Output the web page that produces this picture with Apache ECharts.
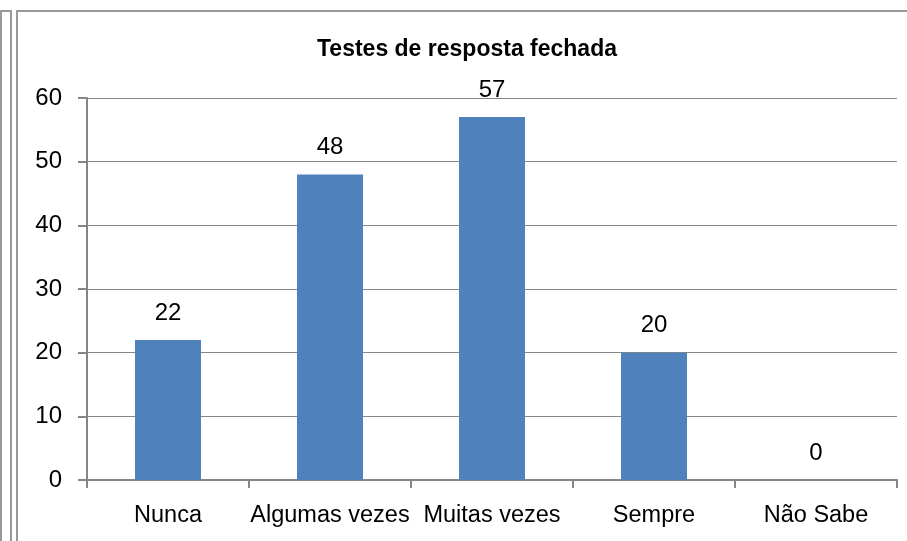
<!DOCTYPE html>
<html>
<head>
<meta charset="utf-8">
<script src="https://cdn.jsdelivr.net/npm/echarts@6/dist/echarts.min.js"></script>
<style>
  html, body { margin: 0; padding: 0; background: #fff; }
  #chart { width: 907px; height: 541px; }
</style>
</head>
<body>
<div id="chart"></div>
<script>
// Respostas: frequência de testes de resposta fechada
const categories = ['Nunca', 'Algumas vezes', 'Muitas vezes', 'Sempre', 'Não Sabe'];
const counts = [22, 48, 57, 20, 0];
const yTicks = { min: 0, max: 60, step: 10 };

const FONT = "'Liberation Sans', 'Noto Sans', sans-serif";
const border = { stroke: '#9a9a9a', lineWidth: 2 };

const chart = echarts.init(document.getElementById('chart'), null, { renderer: 'canvas' });
chart.setOption({
  animation: false,
  backgroundColor: '#ffffff',
  title: {
    text: 'Testes de resposta fechada',
    left: 462,
    top: 33,
    textAlign: 'center',
    textStyle: { fontFamily: FONT, fontWeight: 'bold', fontSize: 23, color: '#000' }
  },
  grid: { left: 87, right: 10, top: 98, bottom: 61, containLabel: false },
  xAxis: {
    type: 'category',
    data: categories,
    boundaryGap: true,
    axisLine: { lineStyle: { color: '#868686', width: 2 } },
    axisTick: { show: true, length: 8, inside: false, lineStyle: { color: '#868686', width: 2 } },
    axisLabel: { margin: 24, fontFamily: FONT, fontSize: 23.5, color: '#000', interval: 0 }
  },
  yAxis: {
    type: 'value',
    min: yTicks.min,
    max: yTicks.max,
    interval: yTicks.step,
    axisLine: { show: true, lineStyle: { color: '#868686', width: 2 } },
    axisTick: { show: true, length: 9, lineStyle: { color: '#868686', width: 2 } },
    axisLabel: { margin: 25, fontFamily: FONT, fontSize: 24, color: '#000' },
    splitLine: { show: true, lineStyle: { color: '#868686', width: 1 } }
  },
  series: [{
    type: 'bar',
    data: counts,
    barWidth: 66,
    itemStyle: { color: '#4F81BD' },
    label: {
      show: true,
      position: 'top',
      distance: 15,
      fontFamily: FONT,
      fontSize: 24,
      color: '#000'
    }
  }],
  graphic: [
    // frame lines on the left and top edges
    { type: 'polyline', shape: { points: [[1, 541], [1, 11], [11, 11], [11, 541]] }, style: { stroke: border.stroke, lineWidth: border.lineWidth, fill: null } },
    { type: 'polyline', shape: { points: [[17, 541], [17, 11], [907, 11]] }, style: { stroke: border.stroke, lineWidth: border.lineWidth, fill: null } }
  ]
});
</script>
</body>
</html>
